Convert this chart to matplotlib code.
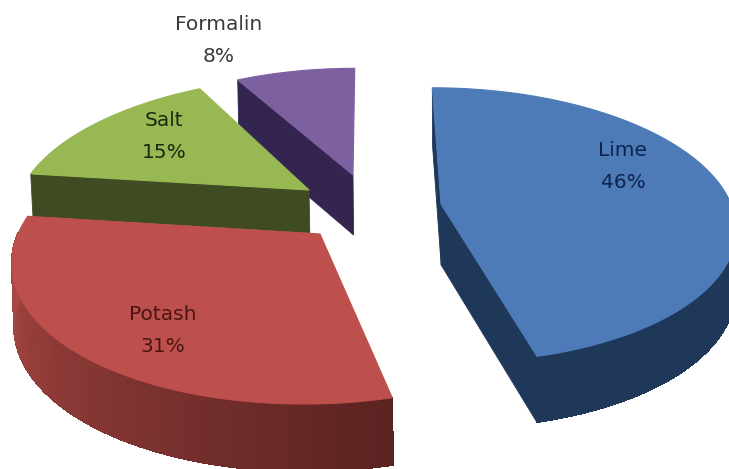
import numpy as np
import matplotlib
matplotlib.use("Agg")
import matplotlib.pyplot as plt
from matplotlib.colors import to_rgb

categories = ["Lime", "Potash", "Salt", "Formalin"]
shares = [46, 31, 15, 8]

# layout: apex x, apex y, A, B, skew, depth
geometry = [
    (441, 204, 290, 134, -10, 61),
    (320, 234, 302, 144, 14, 62),
    (309, 190, 288, 131, 17, 43),
    (353, 175, 275, 123, 2, 60),
]
top_colors = ["#4C7BB8", "#BD4F4C", "#97B853", "#7D60A0"]
wall_start = ["#1F3859", "#B34B47", "#3F4B22", "#33254F"]
wall_end = ["#1F3859", "#5A2321", "#3F4B22", "#33254F"]
text_colors = ["#10224E", "#4A1512", "#1C2A10", "#3A3A3A"]
label_xy = [(623, 167), (163, 331), (164, 136), (219, 41)]
draw_order = [3, 2, 0, 1]
PERSPECTIVE = 0.153
CONVERGE_X = 470
CONVERGE = 0.005
DEPTH_GROW = 0.0005

fig = plt.figure(figsize=(7.29, 4.69), dpi=100)
ax = fig.add_axes([0, 0, 1, 1])
ax.set_xlim(0, 729)
ax.set_ylim(469, 0)
ax.axis("off")


def project(theta, geo):
    cx, cy, a, b, s, _ = geo
    u, v = np.sin(theta), np.cos(theta)
    d = 1 + PERSPECTIVE * v
    return cx + (a * u + s * v) / d, cy - b * v / d


def extrude(x, y, geo):
    """Foot of the wall below a point of the top surface."""
    x = np.asarray(x, float)
    y = np.asarray(y, float)
    return x + (CONVERGE_X - x) * CONVERGE, y + geo[5] * (1 + (y - geo[1]) * DEPTH_GROW)


edges = np.radians(np.concatenate([[0], np.cumsum(shares)]) / sum(shares) * 360)

for z, i in enumerate(draw_order):
    geo = geometry[i]
    th = np.linspace(edges[i], edges[i + 1], 120)
    x, y = project(th, geo)
    fx, fy = extrude(x, y, geo)
    ax_, ay_ = extrude(geo[0], geo[1], geo)
    c0, c1 = np.array(to_rgb(wall_start[i])), np.array(to_rgb(wall_end[i]))
    # radial walls, only those facing the viewer's left
    for k, turn in ((0, -np.pi / 2), (-1, np.pi / 2)):
        if np.sin(th[k] + turn) < 0:
            ax.fill([geo[0], x[k], fx[k], ax_], [geo[1], y[k], fy[k], ay_],
                    color=wall_end[i], lw=0.6, zorder=z * 3 + 1)
    # rim wall, front-facing part only
    front = np.cos(th) < 0.02
    if front.any():
        ax.fill(np.r_[x[front], fx[front][::-1]], np.r_[y[front], fy[front][::-1]],
                color=wall_end[i], lw=0.3, zorder=z * 3 + 2)
    for j in range(len(th) - 1):
        if not (front[j] and front[j + 1]):
            continue
        t = 1 - j / (len(th) - 2)
        col = c0 * (1 - t) + c1 * t
        ax.fill([x[j], x[j + 1], fx[j + 1], fx[j]],
                [y[j], y[j + 1], fy[j + 1], fy[j]],
                color=col, lw=0.8, antialiased=False, zorder=z * 3 + 2)
    # top surface
    ax.fill(np.r_[geo[0], x], np.r_[geo[1], y], color=top_colors[i], lw=0.8, zorder=z * 3 + 3)

for name, share, (lx, ly), tc in zip(categories, shares, label_xy, text_colors):
    ax.text(lx, ly - 16, name, ha="center", va="center", fontsize=14.5, color=tc, zorder=50)
    ax.text(lx, ly + 16, f"{share}%", ha="center", va="center", fontsize=14.5, color=tc, zorder=50)

fig.savefig("out.png", dpi=100, facecolor="white")
